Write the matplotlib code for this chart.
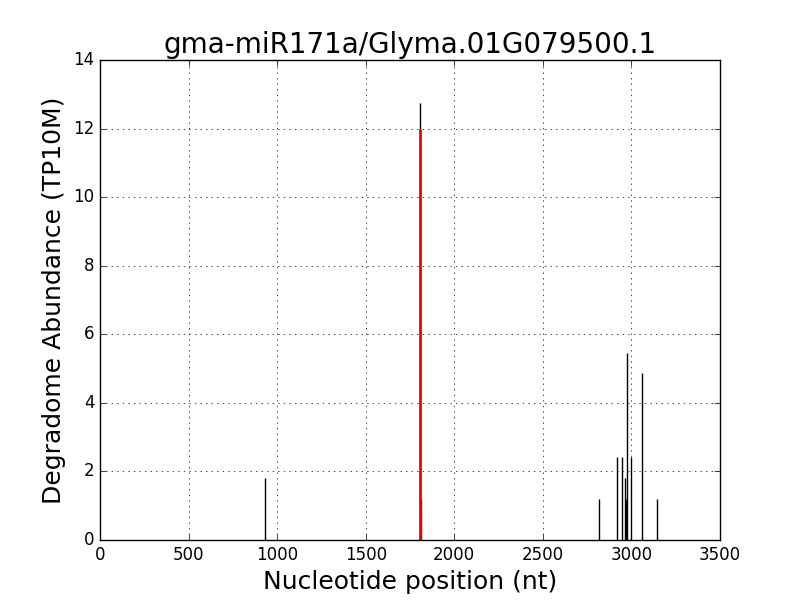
import matplotlib
matplotlib.use("Agg")
import matplotlib.pyplot as plt

plt.style.use('classic')

positions = [933, 1808, 1814, 2819, 2919, 2949, 2966, 2971, 2977, 2999, 3062, 3143]
abundance = [1.82, 12.75, 1.21, 1.21, 2.43, 2.43, 1.82, 1.21, 5.46, 2.43, 4.86, 1.21]
target_pos = [1808]
target_val = [12.0]

fig = plt.figure(figsize=(8, 6), dpi=100)
ax = fig.add_axes([0.125, 0.1, 0.775, 0.8])
ax.vlines(positions, 0, abundance, colors='black', linewidth=1)
ax.vlines(target_pos, 0, target_val, colors='red', linewidth=2)
ax.set_xlim(0, 3500)
ax.set_ylim(0, 14)
ax.grid(True)
ax.set_title('gma-miR171a/Glyma.01G079500.1', fontsize=20)
ax.set_xlabel('Nucleotide position (nt)', fontsize=18)
ax.set_ylabel('Degradome Abundance (TP10M)', fontsize=18)
fig.savefig('out.png', dpi=100)
